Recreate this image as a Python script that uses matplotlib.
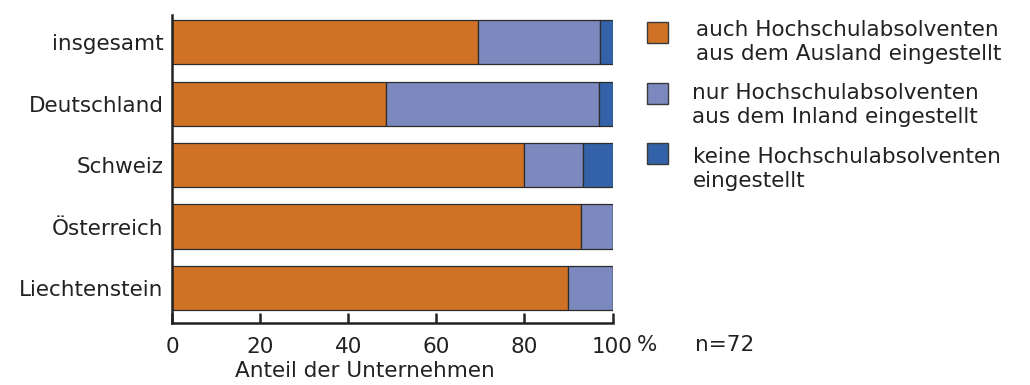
import numpy as np
import matplotlib.pyplot as plt
from matplotlib.patches import Rectangle

plt.rcParams['font.family'] = 'DejaVu Sans'
plt.rcParams['font.size'] = 15.5

laender = ['insgesamt', 'Deutschland', 'Schweiz', 'Österreich', 'Liechtenstein']
ausland = [69.4, 48.5, 80.0, 92.9, 90.0]
inland = [27.8, 48.5, 13.3, 7.1, 10.0]
keine = [2.8, 3.0, 6.7, 0.0, 0.0]
xticks = [0, 20, 40, 60, 80, 100]
labels = ['auch Hochschulabsolventen\naus dem Ausland eingestellt',
          'nur Hochschulabsolventen\naus dem Inland eingestellt',
          'keine Hochschulabsolventen\neingestellt']
farben = ['#d07226', '#7b89be', '#3462a8']

fig = plt.figure(figsize=(10.3, 3.85), dpi=100)
ax = fig.add_axes([172 / 1030, 1 - 322.7 / 385, 440.5 / 1030, (322.7 - 15) / 385])

y = np.arange(len(laender))
left = np.zeros(len(laender))
for werte, farbe in zip([ausland, inland, keine], farben):
    werte = np.array(werte)
    ax.barh(y, werte, left=left, height=0.72, color=farbe,
            edgecolor='#2b2b2b', linewidth=0.9)
    left += werte

ax.set_ylim(len(laender) - 0.435, -0.445)
ax.set_xlim(0, 100)
ax.set_yticks(y)
ax.set_yticklabels(laender, color='#222222')
ax.set_xticks(xticks)
ax.set_xticklabels([str(t) for t in xticks], color='#222222')
ax.tick_params(axis='y', length=0, pad=6)
ax.tick_params(axis='x', direction='in', length=7, width=1.8, pad=10,
               color='#222222')
for s in ['top', 'right']:
    ax.spines[s].set_visible(False)
for s in ['left', 'bottom']:
    ax.spines[s].set_linewidth(1.8)
    ax.spines[s].set_color('#222222')

# percent sign after the last tick label
ax.text(105.6, -0.072, '%', transform=ax.get_xaxis_transform(),
        ha='left', va='center', color='#222222')
fig.text(695 / 1030, 1 - 345 / 385, 'n=72', ha='left', va='center',
         color='#222222')
fig.text(365 / 1030, 1 - 371 / 385, 'Anteil der Unternehmen',
         ha='center', va='center', color='#222222')

# legend drawn by hand: swatches and two-line labels
box_top = [21.7, 82.7, 143.3]
text_x = [696, 692, 693]
text_y = [42, 105, 169]
for bt, tx, ty, farbe, lab in zip(box_top, text_x, text_y, farben, labels):
    fig.patches.append(Rectangle((647 / 1030, 1 - (bt + 21) / 385),
                                 21 / 1030, 21 / 385, transform=fig.transFigure,
                                 facecolor=farbe, edgecolor='#3a3a3a',
                                 linewidth=1.0))
    fig.text(tx / 1030, 1 - ty / 385, lab, ha='left', va='center',
             linespacing=1.2, color='#222222')

fig.savefig('out.png', dpi=100)
